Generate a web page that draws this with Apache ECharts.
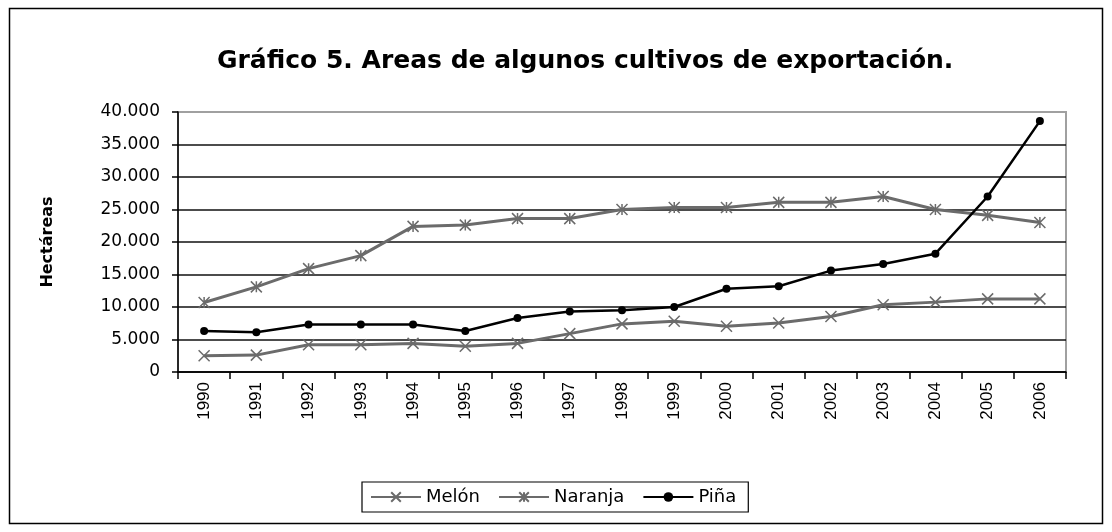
<!DOCTYPE html>
<html>
<head>
<meta charset="utf-8">
<script src="https://cdn.jsdelivr.net/npm/echarts@6/dist/echarts.min.js"></script>
<style>
  html, body { margin: 0; padding: 0; background: #fff; }
  #chart { width: 1112px; height: 532px; }
</style>
</head>
<body>
<div id="chart"></div>
<script>
// datos
var years = ['1990', '1991', '1992', '1993', '1994', '1995', '1996', '1997', '1998',
    '1999', '2000', '2001', '2002', '2003', '2004', '2005', '2006'];
var melon = [2500, 2600, 4200, 4200, 4400, 3950, 4400, 5900, 7400, 7800, 7050, 7550, 8550, 10350, 10750, 11250, 11250];
var naranja = [10700, 13100, 15900, 17900, 22400, 22600, 23600, 23600, 25000, 25300, 25300, 26100, 26100, 27000, 25000, 24100, 23000];
var pina = [6300, 6100, 7300, 7300, 7300, 6300, 8300, 9300, 9500, 10000, 12800, 13200, 15600, 16600, 18200, 27000, 38600];

var font = 'DejaVu Sans, Verdana, sans-serif';
var gray = '#6b6b6b';
var xPath = 'path://M0,0L10,10M10,0L0,10';
var starPath = 'path://M0,0L10,10M10,0L0,10M5,0L5,10';

function fmt(v) {
    return String(v).replace(/\B(?=(\d{3})+(?!\d))/g, '.');
}

var chart = echarts.init(document.getElementById('chart'));
chart.setOption({
    backgroundColor: '#fff',
    animation: false,
    title: {
        text: 'Gráfico 5. Areas de algunos cultivos de exportación.',
        left: 212,
        top: 44,
        textStyle: { fontFamily: font, fontSize: 25, fontWeight: 'bold', color: '#000' }
    },
    graphic: [{
        type: 'rect',
        shape: { x: 9.5, y: 8.5, width: 1093, height: 515 },
        style: { fill: 'none', stroke: '#000', lineWidth: 1.5 },
        silent: true
    }],
    legend: {
        left: 362,
        top: 482,
        padding: [6, 12, 6, 8],
        itemGap: 18,
        itemWidth: 50,
        itemHeight: 12,
        borderColor: '#000',
        borderWidth: 1.2,
        textStyle: { fontFamily: font, fontSize: 18, color: '#000' },
        data: ['Melón', 'Naranja', 'Piña']
    },
    grid: {
        left: 178,
        right: 46,
        top: 112,
        bottom: 160,
        show: true,
        borderColor: '#a0a0a0',
        borderWidth: 2
    },
    xAxis: {
        type: 'category',
        data: years,
        boundaryGap: true,
        axisLine: { lineStyle: { color: '#000', width: 1.5 } },
        axisTick: { show: true, length: 7, lineStyle: { color: '#000', width: 1.5 } },
        axisLabel: { rotate: 90, margin: 10, fontFamily: 'Liberation Sans, Arial, sans-serif', fontSize: 17, color: '#000' }
    },
    yAxis: {
        type: 'value',
        min: 0,
        max: 40000,
        interval: 5000,
        name: 'Hectáreas',
        nameLocation: 'middle',
        nameGap: 122,
        nameTextStyle: { fontFamily: font, fontSize: 16, fontWeight: 'bold', color: '#000' },
        axisLine: { show: true, lineStyle: { color: '#000', width: 1.5 } },
        axisTick: { show: true, length: 6, lineStyle: { color: '#000', width: 1.5 } },
        axisLabel: { margin: 18, fontFamily: font, fontSize: 17, color: '#000', formatter: fmt },
        splitLine: { show: true, showMaxLine: false, lineStyle: { color: '#111', width: 1.5 } }
    },
    series: [
        {
            name: 'Melón',
            type: 'line',
            data: melon,
            symbol: xPath,
            symbolSize: 11,
            color: gray,
            lineStyle: { color: gray, width: 3 },
            itemStyle: { color: 'none', borderColor: gray, borderWidth: 1.5 }
        },
        {
            name: 'Naranja',
            type: 'line',
            data: naranja,
            symbol: starPath,
            symbolSize: 11,
            color: gray,
            lineStyle: { color: gray, width: 3 },
            itemStyle: { color: 'none', borderColor: gray, borderWidth: 1.5 }
        },
        {
            name: 'Piña',
            type: 'line',
            data: pina,
            symbol: 'circle',
            symbolSize: 8,
            color: '#000',
            lineStyle: { color: '#000', width: 2.5 },
            itemStyle: { color: '#000' }
        }
    ]
});
</script>
</body>
</html>
